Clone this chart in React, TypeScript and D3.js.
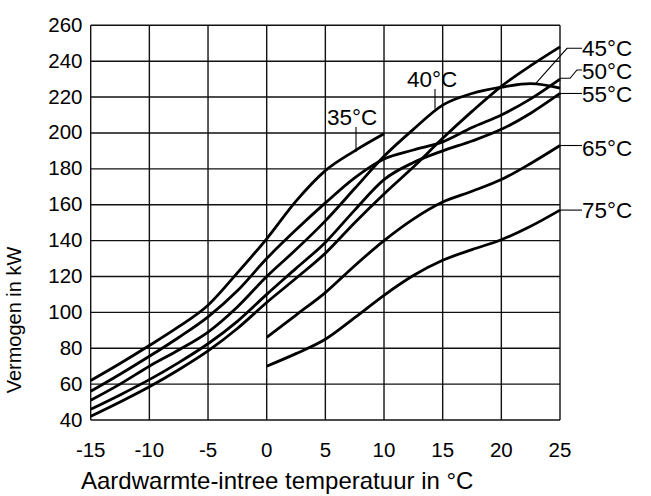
import React from 'react';
import * as d3 from 'd3';

// source temperature (°C) steps
const tFull = [-15, -12.5, -10, -7.5, -5, -2.5, 0, 2.5, 5, 7.5, 10, 12.5, 15, 17.5, 20, 22.5, 25];
const t35 = [-15, -12.5, -10, -7.5, -5, -2.5, 0, 2.5, 5, 7.5, 10];
const tHigh = [0, 2.5, 5, 7.5, 10, 12.5, 15, 17.5, 20, 22.5, 25];

// capacity in kW
const p35 = [62, 71.5, 81.5, 92, 104, 122, 141, 162, 179, 190, 199.5];
const p40 = [51, 60, 70, 79, 89, 103, 120, 135, 151, 169, 187, 202, 215.5, 222, 225.5, 227.5, 225];
const p45 = [42, 50, 58.5, 68, 78.5, 91, 105.5, 119, 133, 150, 166, 181, 197, 212, 226, 237.5, 248];
const p50 = [56, 65.5, 75.5, 86, 97.5, 112, 130, 146, 161, 175, 185.5, 190.5, 195, 203, 210, 219, 230];
const p55 = [46, 54, 62.5, 72, 82.5, 95, 110, 124.5, 139, 157, 174, 183.5, 190, 195.5, 202, 211, 222];
const p65 = [86, 98.5, 111, 126, 140, 152, 161.5, 167.5, 174, 183, 193];
const p75 = [70, 77, 85, 97, 109.5, 120.5, 129, 135, 140.5, 148, 157];

const xTicks = [-15, -10, -5, 0, 5, 10, 15, 20, 25];
const yTicks = [40, 60, 80, 100, 120, 140, 160, 180, 200, 220, 240, 260];

const font = '"Liberation Sans", Arial, sans-serif';

export default function App() {
  const x = d3.scaleLinear().domain([-15, 25]).range([90.7, 560]);
  const y = d3.scaleLinear().domain([40, 260]).range([420, 25.3]);

  const line = d3.line<[number, number]>()
    .x(d => x(d[0]))
    .y(d => y(d[1]))
    .curve(d3.curveMonotoneX);

  const series = [
    { t: t35, p: p35 },
    { t: tFull, p: p40 },
    { t: tFull, p: p45 },
    { t: tFull, p: p50 },
    { t: tFull, p: p55 },
    { t: tHigh, p: p65 },
    { t: tHigh, p: p75 },
  ];

  return (
    <svg width={651} height={496} style={{ position: 'absolute', left: 0, top: 0, background: '#fff' }}
      fontFamily={font}>
      {/* grid */}
      {xTicks.map(v => (
        <line key={'gx' + v} x1={x(v)} x2={x(v)} y1={y(260)} y2={y(40)} stroke="#111" strokeWidth={1.4} />
      ))}
      {yTicks.map(v => (
        <line key={'gy' + v} x1={x(-15)} x2={x(25)} y1={y(v)} y2={y(v)} stroke="#111" strokeWidth={1.4} />
      ))}

      {/* curves */}
      {series.map((s, i) => (
        <path key={i} d={line(s.t.map((t, j) => [t, s.p[j]] as [number, number])) || ''}
          fill="none" stroke="#000" strokeWidth={2.8} strokeLinejoin="round" />
      ))}

      {/* tick labels */}
      {yTicks.map(v => (
        <text key={'ly' + v} x={82.5} y={y(v) + 6.5} textAnchor="end" fontSize={20.5}>{v}</text>
      ))}
      {xTicks.map(v => (
        <text key={'lx' + v} x={x(v)} y={456.5} textAnchor="middle" fontSize={20.5}>{v}</text>
      ))}

      {/* axis titles */}
      <text x={81} y={489} fontSize={24}>Aardwarmte-intree temperatuur in °C</text>
      <text transform="translate(21,320) rotate(-90)" textAnchor="middle" fontSize={20}>Vermogen in kW</text>

      {/* curve labels and leaders */}
      <g stroke="#000" strokeWidth={1.1} fill="none">
        <line x1={356} x2={356} y1={127} y2={y(190) + 1} />
        <line x1={435} x2={435} y1={89} y2={y(214) + 1} />
        <polyline points={`582,48.3 567,48.3 ${x(22.9)},${y(227.3)}`} />
        <polyline points={`582,70 577,70 570,78.3 560,78.3`} />
        <line x1={560} x2={582} y1={y(222)} y2={y(222)} />
        <line x1={560} x2={582} y1={y(193)} y2={y(193)} />
        <line x1={560} x2={582} y1={y(157)} y2={y(157)} />
      </g>
      <g fontSize={22.5}>
        <text x={327} y={125}>35°C</text>
        <text x={407} y={87}>40°C</text>
        <text x={582} y={56}>45°C</text>
        <text x={582} y={78.5}>50°C</text>
        <text x={582} y={101.5}>55°C</text>
        <text x={582} y={156}>65°C</text>
        <text x={582} y={218}>75°C</text>
      </g>
    </svg>
  );
}
